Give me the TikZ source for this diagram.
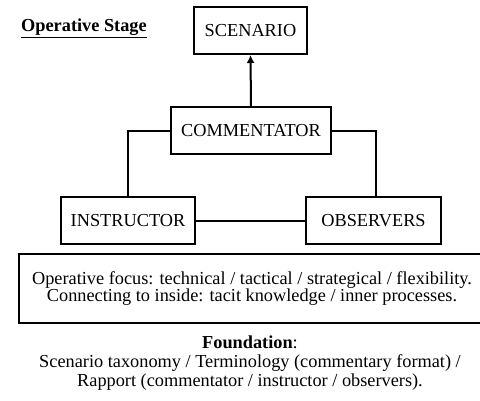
\documentclass[tikz,border=0pt]{standalone}
\usepackage{fontspec}
\setmainfont{Liberation Serif}
\usetikzlibrary{positioning, arrows.meta}

\begin{document}
\begin{tikzpicture}[x=1pt,y=-1pt,
    role/.style={draw, line width=2pt, inner sep=0pt, minimum height=47pt, font=\fontsize{18.3}{18}\selectfont},
    link/.style={line width=2pt}]
\clip (0,0) rectangle (480,400);
\fill[white] (0,0) rectangle (480,400);

\node[anchor=west, inner sep=0pt, font=\fontsize{18.3}{18}\selectfont\bfseries] (stage) at (21,28) {\underline{Operative Stage}};

\node[role, minimum width=113pt] (scen) at (250.5,30.5) {SCENARIO};
\node[role, minimum width=160pt] (comm) at (251,130.5) {COMMENTATOR};
\node[role, minimum width=134pt] (instr) at (128,220.5) {INSTRUCTOR};
\node[role, minimum width=135pt] (obs) at (373.5,220.5) {OBSERVERS};

\draw[link, -{Latex[length=8pt,width=8pt]}] (comm.north) -- (scen.south);
\draw[link] (comm.west |- 0,131) -| (instr.north);
\draw[link] (comm.east |- 0,131) -| ([xshift=2.5pt]obs.north);
\draw[link] (instr) -- (obs);

\node[draw, line width=2pt, minimum width=466pt, minimum height=69pt, align=center,
      font=\fontsize{18.3}{17.5}\selectfont, anchor=north west] (focus) at (18,253)
  {Operative focus: technical / tactical / strategical / flexibility.\\
   Connecting to inside: tacit knowledge / inner processes.};

\coordinate (mid) at (250,336);
\node[align=center, inner sep=0pt, font=\fontsize{18.3}{19}\selectfont, anchor=north] (found) at (mid)
  {\textbf{Foundation}:\\
   Scenario taxonomy / Terminology (commentary format) /\\
   Rapport (commentator / instructor / observers).};
\end{tikzpicture}
\end{document}
